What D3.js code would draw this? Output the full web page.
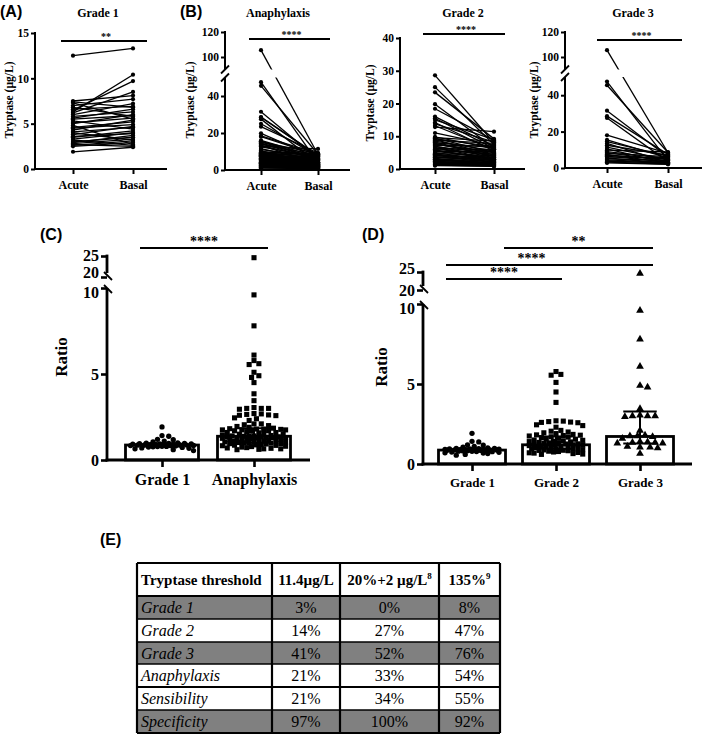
<!DOCTYPE html>
<html><head><meta charset="utf-8">
<script src="https://cdn.jsdelivr.net/npm/d3@7"></script>
<style>body{margin:0;background:#fff}</style>
</head><body>
<svg id="c" width="709" height="735"></svg>
<script>
// ---------- DATA ----------
const pairCats = ["Acute", "Basal"];
const grade1Acute = [12.5, 7.5, 7.4, 7.3, 7.0, 6.8, 6.6, 6.5, 6.3, 6.2, 6.0, 5.8, 5.6, 5.5, 5.3, 5.1, 5.0, 4.8, 4.6, 4.5, 4.3, 4.1, 4.0, 3.8, 3.6, 3.5, 3.3, 3.2, 3.0, 2.9, 2.8, 2.7, 2.6, 2.5, 1.9];
const grade1Basal = [13.3, 8.1, 6.8, 5.5, 7.7, 5.8, 6.9, 9.7, 10.4, 8.5, 7.2, 6.3, 6.6, 5.9, 4.4, 5.6, 6.0, 2.7, 5.2, 4.9, 5.4, 4.6, 3.2, 4.7, 3.9, 4.2, 4.0, 2.6, 3.5, 3.7, 3.3, 2.5, 3.1, 2.9, 2.4];
const grade2Acute = [28.6, 25.0, 23.4, 19.8, 18.4, 16.0, 15.5, 15.0, 14.2, 13.8, 13.2, 12.8, 11.0, 9.6, 9.4, 9.2, 9.0, 8.8, 8.5, 8.2, 8.0, 7.8, 7.5, 7.2, 7.0, 6.8, 6.5, 6.2, 6.0, 5.8, 5.5, 5.2, 5.0, 4.8, 4.5, 4.2, 4.0, 3.8, 3.5, 3.2, 3.0, 2.8, 2.6, 2.4, 2.2, 2.0, 1.8, 1.6, 1.4, 1.2, 9.8, 7.6, 6.4, 5.6, 4.4, 3.6, 2.9, 2.1, 1.5, 1.0];
const grade2Basal = [8.0, 7.5, 9.2, 6.5, 8.8, 7.0, 6.2, 9.0, 5.5, 8.2, 6.0, 11.4, 7.2, 8.5, 5.0, 6.8, 4.2, 7.8, 5.5, 3.8, 6.5, 4.0, 5.2, 7.0, 3.5, 4.8, 3.0, 6.0, 4.5, 2.8, 3.2, 5.5, 2.5, 4.0, 3.0, 2.2, 3.6, 2.0, 2.8, 1.8, 2.4, 1.6, 2.0, 1.4, 1.9, 1.2, 1.5, 1.3, 1.0, 0.9, 6.2, 5.0, 4.0, 3.4, 2.6, 2.9, 1.7, 1.5, 1.1, 0.8];
const grade3Acute = [105.5, 47.5, 45.5, 31.5, 28.5, 27.5, 18.0, 15.5, 14.5, 13.5, 12.5, 11.5, 10.5, 9.8, 9.0, 8.5, 8.0, 7.5, 7.0, 6.5, 6.0, 5.5, 5.0, 4.5, 4.0, 3.6, 3.2, 2.8];
const grade3Basal = [8.4, 4.0, 8.5, 6.0, 7.5, 3.5, 8.0, 5.5, 6.5, 3.0, 7.0, 4.5, 2.5, 8.8, 5.2, 3.8, 6.2, 2.8, 4.8, 3.2, 5.8, 2.6, 4.2, 3.0, 2.4, 2.9, 2.2, 2.0];
const anaphylaxisAcute = grade2Acute.concat(grade3Acute);
const anaphylaxisBasal = grade2Basal.concat(grade3Basal);

const grade1Ratio = [1.92, 1.42, 1.38, 1.2, 1.18, 1.1, 1.05, 1.0, 0.98, 0.97, 0.96, 0.95, 0.94, 0.93, 0.92, 0.91, 0.9, 0.9, 0.89, 0.88, 0.87, 0.87, 0.86, 0.85, 0.84, 0.83, 0.82, 0.8, 0.79, 0.78, 0.77, 0.75, 0.73, 0.7, 0.68, 0.65, 0.6, 0.55];
const grade2Ratio = [5.78, 5.6, 5.55, 5.1, 4.5, 3.85, 2.7, 2.68, 2.65, 2.62, 2.6, 2.58, 2.45, 2.4, 2.3, 2.1, 2.05, 2.0, 1.95, 1.9, 1.85, 1.82, 1.8, 1.78, 1.75, 1.7, 1.68, 1.65, 1.6, 1.58, 1.55, 1.5, 1.48, 1.45, 1.42, 1.4, 1.38, 1.35, 1.32, 1.3, 1.28, 1.26, 1.25, 1.22, 1.2, 1.2, 1.18, 1.15, 1.12, 1.1, 1.08, 1.05, 1.02, 1.0, 0.98, 0.96, 0.95, 0.93, 0.9, 0.88, 0.86, 0.85, 0.83, 0.8, 0.78, 0.75, 0.72, 0.7, 0.68, 0.65, 0.62, 0.6];
const grade3Ratio = [24.6, 9.6, 7.8, 6.1, 4.9, 4.8, 3.45, 3.0, 3.0, 2.95, 3.05, 3.0, 2.1, 1.75, 1.8, 1.7, 1.75, 1.6, 1.35, 1.3, 1.4, 1.35, 1.3, 1.38, 1.05, 1.0, 1.1, 1.05, 0.65];
const anaphylaxisRatio = grade2Ratio.concat(grade3Ratio);

const ratioCatsC = ["Grade 1", "Anaphylaxis"];
const medianC = [0.87, 1.38];
const q1C = [0.78, 1.0];
const q3C = [0.98, 1.85];
const ratioCatsD = ["Grade 1", "Grade 2", "Grade 3"];
const medianD = [0.87, 1.2, 1.72];
const q1D = [0.78, 0.95, 1.28];
const q3D = [0.98, 1.72, 3.28];

const ticksA = [0, 5, 10, 15];
const ticksBreak = [0, 20, 40, 100, 120];
const ticksG2 = [0, 10, 20, 30, 40];
const ticksRatio = [0, 5, 10, 20, 25];

const tableHeader = ["Tryptase threshold", "11.4µg/L", "20%+2 µg/L", "135%"];
const tableHeaderSup = ["", "", "8", "9"];
const tableRows = ["Grade 1", "Grade 2", "Grade 3", "Anaphylaxis", "Sensibility", "Specificity"];
const tableCol1 = ["3%", "14%", "41%", "21%", "21%", "97%"];
const tableCol2 = ["0%", "27%", "52%", "33%", "34%", "100%"];
const tableCol3 = ["8%", "47%", "76%", "54%", "55%", "92%"];

// ---------- DRAW ----------
const svg = d3.select('#c');
const SERIF = '"Liberation Serif","Times New Roman",Times,serif';
const SANS = '"Liberation Sans",Arial,sans-serif';
function serifText(sel, size, weight, style) {
  return sel.style('font-family', SERIF).style('font-size', size + 'px')
    .style('font-weight', weight || 'bold').style('font-style', style || 'normal').attr('fill', '#000');
}

function panelLabel(txt, x, y) {
  svg.append('text').attr('x', x).attr('y', y).text(txt)
    .style('font-family', SANS).style('font-weight', 'bold').style('font-size', '16px');
}

function breakMark(x, y, dir) {
  svg.append('line').attr('x1', x - 4).attr('x2', x + 4)
    .attr('y1', y - 4 * dir).attr('y2', y + 4 * dir)
    .attr('stroke', '#000').attr('stroke-width', 1.8);
}

function pairPanel(o) {
  const x = d3.scalePoint().domain(pairCats).range([o.ax, o.bx]);
  const y = d3.scaleLinear().domain(o.ydom).range(o.yrng);
  const id = 'clip' + o.key;
  const cp = svg.append('clipPath').attr('id', id);
  if (o.gap) {
    const yTop = y(o.gap[1]), yBot = y(o.gap[0]);
    cp.append('rect').attr('x', 0).attr('y', 0).attr('width', 709).attr('height', yTop);
    cp.append('rect').attr('x', 0).attr('y', yBot).attr('width', 709).attr('height', 735 - yBot);
  } else {
    cp.append('rect').attr('x', 0).attr('y', 0).attr('width', 709).attr('height', 735);
  }
  const g = svg.append('g').attr('clip-path', `url(#${id})`);
  const pairs = o.acute.map((a, i) => [a, o.basal[i]]);
  g.selectAll('line.p').data(pairs).join('line')
    .attr('x1', x('Acute')).attr('x2', x('Basal'))
    .attr('y1', d => y(d[0])).attr('y2', d => y(d[1]))
    .attr('stroke', '#000').attr('stroke-width', 1.3);
  g.selectAll('circle.a').data(pairs).join('circle')
    .attr('cx', x('Acute')).attr('cy', d => y(d[0])).attr('r', 2.1).attr('fill', '#000');
  g.selectAll('circle.b').data(pairs).join('circle')
    .attr('cx', x('Basal')).attr('cy', d => y(d[1])).attr('r', 2.1).attr('fill', '#000');

  const ya = svg.append('g').attr('transform', `translate(${o.x0},0)`)
    .call(d3.axisLeft(y).tickValues(o.ticks).tickSize(4).tickPadding(2));
  ya.select('.domain').remove();
  ya.selectAll('line').attr('stroke-width', 2);
  serifText(ya.selectAll('text'), 11.5);
  const ymax = o.ydom[o.ydom.length - 1];
  if (o.gap) {
    svg.append('line').attr('x1', o.x0).attr('x2', o.x0).attr('y1', y(0) + 1).attr('y2', y(o.gap[0])).attr('stroke', '#000').attr('stroke-width', 2);
    svg.append('line').attr('x1', o.x0).attr('x2', o.x0).attr('y1', y(o.gap[1])).attr('y2', y(ymax) - 1).attr('stroke', '#000').attr('stroke-width', 2);
    breakMark(o.x0, y(o.gap[0]), -1);
    breakMark(o.x0, y(o.gap[1]), -1);
  } else {
    svg.append('line').attr('x1', o.x0).attr('x2', o.x0).attr('y1', y(0) + 1).attr('y2', y(ymax) - 1).attr('stroke', '#000').attr('stroke-width', 2);
  }
  const xa = svg.append('g').attr('transform', `translate(0,${y(0)})`)
    .call(d3.axisBottom(x).tickSize(5).tickPadding(6));
  xa.select('.domain').remove();
  xa.selectAll('line').attr('stroke-width', 2);
  serifText(xa.selectAll('text'), 12);
  svg.append('line').attr('x1', o.x0 - 1).attr('x2', o.xEnd).attr('y1', y(0)).attr('y2', y(0)).attr('stroke', '#000').attr('stroke-width', 2);

  serifText(svg.append('text').attr('x', o.titleX).attr('y', 17).attr('text-anchor', 'middle').text(o.title), 12);
  svg.append('line').attr('x1', o.sig[0]).attr('x2', o.sig[1]).attr('y1', o.sigY).attr('y2', o.sigY).attr('stroke', '#000').attr('stroke-width', 2);
  serifText(svg.append('text').attr('x', (o.sig[0] + o.sig[1]) / 2 + 2).attr('y', o.sigY - 1).attr('text-anchor', 'middle').text(o.stars), 10);
  serifText(svg.append('text').attr('transform', `translate(${o.labelX},${o.labelY}) rotate(-90)`).attr('text-anchor', 'middle')
    .text('Tryptase (µg/L)'), 11.5);
}

pairPanel({ key: 'A', x0: 35, xEnd: 167, ax: 73, bx: 133, ydom: [0, 15], yrng: [169, 33], ticks: ticksA,
  acute: grade1Acute, basal: grade1Basal, title: 'Grade 1', titleX: 98, sig: [61, 147], sigY: 41, stars: '**', labelX: 13, labelY: 100 });
pairPanel({ key: 'B', x0: 225, xEnd: 350, ax: 261, bx: 318, ydom: [0, 50, 90, 120], yrng: [170, 77.5, 69.5, 32], gap: [50, 90], ticks: ticksBreak,
  acute: anaphylaxisAcute, basal: anaphylaxisBasal, title: 'Anaphylaxis', titleX: 278, sig: [249, 330], sigY: 39, stars: '****', labelX: 194, labelY: 100 });
pairPanel({ key: 'G2', x0: 400, xEnd: 525, ax: 435, bx: 494, ydom: [0, 40], yrng: [169, 38], ticks: ticksG2,
  acute: grade2Acute, basal: grade2Basal, title: 'Grade 2', titleX: 463, sig: [423, 505], sigY: 34, stars: '****', labelX: 374, labelY: 103 });
pairPanel({ key: 'G3', x0: 565, xEnd: 702, ax: 607, bx: 668, ydom: [0, 50, 90, 120], yrng: [168, 77, 69.5, 32], gap: [50, 90], ticks: ticksBreak,
  acute: grade3Acute, basal: grade3Basal, title: 'Grade 3', titleX: 633, sig: [597, 682], sigY: 40, stars: '****', labelX: 538, labelY: 100 });

panelLabel('(A)', 0, 17);
panelLabel('(B)', 180, 17);

// ---------- Ratio panels ----------
function swarm(vals, y, cx, r, maxOff) {
  const pts = vals.map(v => ({ v, py: y(v) })).sort((a, b) => a.py - b.py);
  const placed = [];
  const step = r * 0.9;
  for (const p of pts) {
    let best = 0, bestD = -1, done = false;
    for (let k = 0; k * step <= maxOff && !done; k++) {
      const offs = k === 0 ? [0] : [k * step, -k * step];
      for (const off of offs) {
        let minD = Infinity;
        for (const q of placed) {
          const d = Math.hypot(q.px - (cx + off), q.py - p.py);
          if (d < minD) minD = d;
        }
        if (minD >= 2 * r) { best = off; done = true; break; }
        if (minD > bestD) { bestD = minD; best = off; }
      }
    }
    p.px = cx + best;
    placed.push(p);
  }
  return placed;
}

function ratioPanel(o) {
  const x = d3.scalePoint().domain(o.cats).range(o.xr);
  const y = d3.scaleLinear().domain([0, 10, 20, 25]).range(o.yrng);
  svg.selectAll(null).data(o.cats).join('rect')
    .attr('x', d => x(d) - o.barW / 2).attr('width', o.barW)
    .attr('y', (d, i) => y(o.median[i])).attr('height', (d, i) => y(0) - y(o.median[i]))
    .attr('fill', '#fff').attr('stroke', '#000').attr('stroke-width', 2.8);
  o.groups.forEach((vals, i) => {
    const pts = swarm(vals, y, x(o.cats[i]), o.r[i], o.barW / 2 - o.r[i] - 2);
    const sym = d3.symbol().type(o.shapes[i]).size(o.size[i]);
    svg.append('g').selectAll('path').data(pts).join('path')
      .attr('transform', d => `translate(${d.px},${d.py})`).attr('d', sym).attr('fill', '#000');
  });
  o.cats.forEach((c, i) => {
    const cx = x(c), w = o.barW / 4;
    const g = svg.append('g').attr('stroke', '#000').attr('stroke-width', 2);
    g.append('line').attr('x1', cx).attr('x2', cx).attr('y1', y(o.q1[i])).attr('y2', y(o.q3[i]));
    g.append('line').attr('x1', cx - w).attr('x2', cx + w).attr('y1', y(o.q1[i])).attr('y2', y(o.q1[i]));
    g.append('line').attr('x1', cx - w).attr('x2', cx + w).attr('y1', y(o.q3[i])).attr('y2', y(o.q3[i]));
  });
  const ya = svg.append('g').attr('transform', `translate(${o.x0},0)`)
    .call(d3.axisLeft(y).tickValues(ticksRatio).tickSize(6).tickPadding(2));
  ya.select('.domain').remove();
  ya.selectAll('line').attr('stroke-width', 2.6);
  serifText(ya.selectAll('text'), 16);
  ya.selectAll('.tick text').attr('dy', d => (o.tickDy[d] !== undefined ? o.tickDy[d] : 0.32) + 'em');
  svg.append('line').attr('x1', o.x0).attr('x2', o.x0).attr('y1', y(0) + 1.5).attr('y2', y(10)).attr('stroke', '#000').attr('stroke-width', 2.8);
  svg.append('line').attr('x1', o.x0).attr('x2', o.x0).attr('y1', y(20) - 4).attr('y2', y(25) - 1.4).attr('stroke', '#000').attr('stroke-width', 2.8);
  breakMark(o.x0 + 1, y(20) - 1, 1);
  breakMark(o.x0 + 1, y(10) + 1, 1);
  const xa = svg.append('g').attr('transform', `translate(0,${y(0)})`)
    .call(d3.axisBottom(x).tickSize(7).tickPadding(7));
  xa.select('.domain').remove();
  xa.selectAll('line').attr('stroke-width', 2.6);
  serifText(xa.selectAll('text'), o.xfs);
  svg.append('line').attr('x1', o.x0 - 1.4).attr('x2', o.xEnd).attr('y1', y(0)).attr('y2', y(0)).attr('stroke', '#000').attr('stroke-width', 2.8);
  serifText(svg.append('text').attr('transform', `translate(${o.labelX},${o.labelY}) rotate(-90)`).attr('text-anchor', 'middle')
    .text('Ratio'), 17);
  o.sigs.forEach(s => {
    svg.append('line').attr('x1', s.x1).attr('x2', s.x2).attr('y1', s.y).attr('y2', s.y).attr('stroke', '#000').attr('stroke-width', 2.2);
    serifText(svg.append('text').attr('x', (s.x1 + s.x2) / 2 + (s.dx || 0)).attr('y', s.y - 2).attr('text-anchor', 'middle').text(s.label), 14);
  });
}

ratioPanel({ key: 'C', cats: ratioCatsC, xr: [162, 254], x0: 107, xEnd: 310, yrng: [460, 288, 277, 256], barW: 73,
  median: medianC, q1: q1C, q3: q3C, groups: [grade1Ratio, anaphylaxisRatio],
  shapes: [d3.symbolCircle, d3.symbolSquare], size: [22, 26], r: [2.5, 2.7], xfs: 16,
  tickDy: { 25: 0.25, 20: 0.05, 10: 0.6 },
  labelX: 67, labelY: 357, sigs: [{ x1: 140, x2: 268, y: 248, label: '****' }] });
ratioPanel({ key: 'D', cats: ratioCatsD, xr: [472, 640], x0: 423, xEnd: 692, yrng: [464, 304, 290, 272], barW: 67,
  median: medianD, q1: q1D, q3: q3D, groups: [grade1Ratio, grade2Ratio, grade3Ratio],
  shapes: [d3.symbolCircle, d3.symbolSquare, d3.symbolTriangle], size: [22, 26, 26], r: [2.5, 2.7, 2.8], xfs: 13,
  tickDy: { 25: 0.1, 20: 0.32, 10: 0.62 },
  labelX: 387, labelY: 367, sigs: [{ x1: 504, x2: 653, y: 248, label: '**' }, { x1: 446, x2: 653, y: 265, label: '****', dx: -18 }, { x1: 446, x2: 562, y: 279, label: '****' }] });

panelLabel('(C)', 40, 240);
panelLabel('(D)', 362, 240);
panelLabel('(E)', 100, 545);

// ---------- Table ----------
const colX = [137, 272, 340, 439, 500];
const rowY = [563, 596, 619, 642, 664, 687, 710, 733];
const grayRows = new Set(["Grade 1", "Grade 3", "Specificity"]);
const tg = svg.append('g');
tableRows.forEach((r, i) => {
  if (grayRows.has(r)) tg.append('rect').attr('x', colX[0]).attr('y', rowY[i + 1]).attr('width', colX[4] - colX[0]).attr('height', rowY[i + 2] - rowY[i + 1]).attr('fill', '#808080');
});
tableHeader.forEach((h, j) => {
  const t = serifText(tg.append('text').attr('y', (rowY[0] + rowY[1]) / 2 + 5.5), 15);
  if (j === 0) t.attr('x', colX[0] + 4); else t.attr('x', (colX[j] + colX[j + 1]) / 2).attr('text-anchor', 'middle');
  t.append('tspan').text(h);
  if (tableHeaderSup[j]) t.append('tspan').text(tableHeaderSup[j]).style('font-size', '9px').attr('dy', -6);
});
const cols = [tableCol1, tableCol2, tableCol3];
tableRows.forEach((r, i) => {
  const cy = (rowY[i + 1] + rowY[i + 2]) / 2 + 5.5;
  serifText(tg.append('text').attr('x', colX[0] + 4).attr('y', cy).text(r), 16, 'normal', 'italic');
  cols.forEach((c, j) => {
    serifText(tg.append('text').attr('x', (colX[j + 1] + colX[j + 2]) / 2).attr('y', cy).attr('text-anchor', 'middle').text(c[i]), 16, 'normal');
  });
});
rowY.forEach((yy, i) => {
  tg.append('line').attr('x1', colX[0]).attr('x2', colX[4]).attr('y1', yy).attr('y2', yy).attr('stroke', '#000')
    .attr('stroke-width', (i === 0 || i === 1 || i === rowY.length - 1 || i === 5) ? 2.2 : 1.4);
});
colX.forEach(xx => {
  tg.append('line').attr('x1', xx).attr('x2', xx).attr('y1', rowY[0]).attr('y2', rowY[rowY.length - 1]).attr('stroke', '#000').attr('stroke-width', 2.2);
});
</script>
</body></html>
